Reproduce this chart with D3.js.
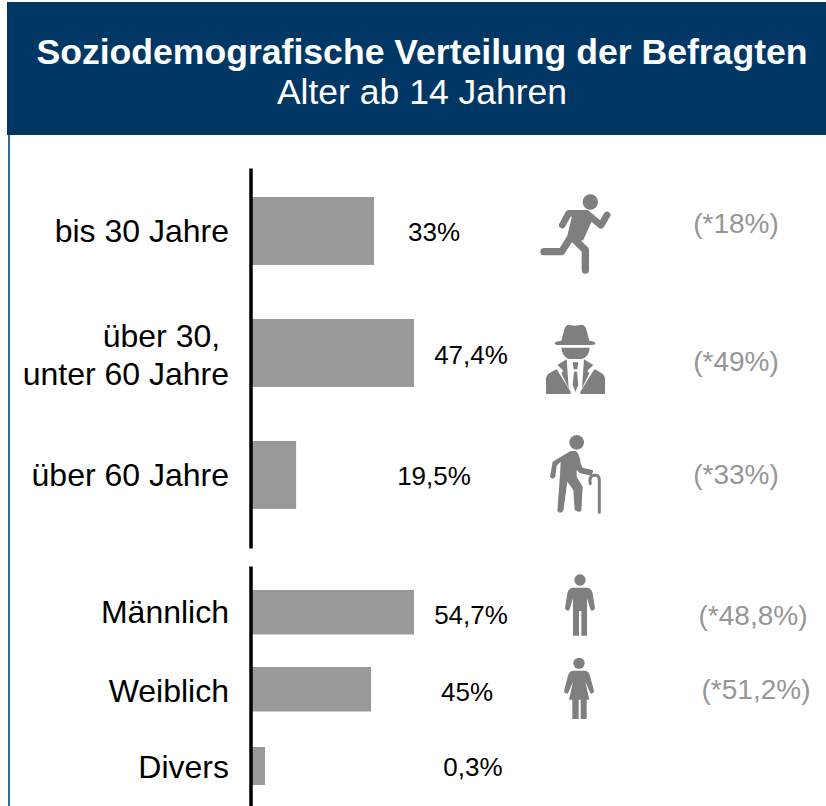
<!DOCTYPE html>
<html><head><meta charset="utf-8">
<script src="https://cdn.jsdelivr.net/npm/d3@7/dist/d3.min.js"></script>
<style>html,body{margin:0;padding:0;background:#fff;overflow:hidden}svg{display:block}text{font-family:"Liberation Sans",Arial,sans-serif}</style>
</head><body><div id="c"></div>
<script>
// ---- data ----
const titleText = "Soziodemografische Verteilung der Befragten";
const subtitleText = "Alter ab 14 Jahren";
const ageCategories = ["bis 30 Jahre", "über 30,\u00a0\n unter 60 Jahre", "über 60 Jahre"];
const ageBarLengths = [41.2, 54.7, 14.9];       // drawn bar lengths
const ageLabels = ["33%", "47,4%", "19,5%"];
const ageCompare = ["(*18%)", "(*49%)", "(*33%)"];
const genderCategories = ["Männlich", "Weiblich", "Divers"];
const genderBarLengths = [54.7, 40.2, 4.4];
const genderLabels = ["54,7%", "45%", "0,3%"];
const genderCompare = ["(*48,8%)", "(*51,2%)", ""];

// ---- layout ----
const W = 826, H = 806;
const valueX = { age: [434, 471, 434], gender: [471, 467, 473] };
const valueY = { age: [232, 355, 476], gender: [615, 692, 767] };
const labelY = { age: [231, 355, 475], gender: [612, 691, 767] };
const compareX = { age: [736, 736, 736], gender: [753, 756, 0] };
const compareY = { age: [224, 362, 475], gender: [616, 690, 0] };
const blue = "#003764";

const svg = d3.select("#c").append("svg").attr("width", W).attr("height", H);
svg.append("rect").attr("x", 8).attr("y", 130).attr("width", 2).attr("height", H).attr("fill", "#336791");
svg.append("rect").attr("x", 7).attr("y", 2).attr("width", W - 7).attr("height", 133).attr("fill", blue);
svg.append("text").attr("x", 422).attr("y", 64).attr("text-anchor", "middle").attr("fill", "#fff")
   .attr("font-size", 35.6).attr("font-weight", "bold").text(titleText);
svg.append("text").attr("x", 422).attr("y", 104).attr("text-anchor", "middle").attr("fill", "#fff")
   .attr("font-size", 35.5).text(subtitleText);

const x = d3.scaleLinear().domain([0, 54.7]).range([252, 414]);
const yAge = d3.scaleBand().domain(ageCategories).range([168, 548]).paddingInner(0.443).paddingOuter(0.279).align(0.426);
const yGender = d3.scaleBand().domain(genderCategories).range([566, 806]).paddingInner(0.422).paddingOuter(0.269).align(0.578);

function group(cats, lens, labels, compare, y, key, trim) {
  const g = svg.append("g");
  g.selectAll("rect.bar").data(cats).join("rect").attr("class", "bar")
    .attr("x", x(0)).attr("width", (d, i) => x(lens[i]) - x(0))
    .attr("y", d => y(d) + (d === trim ? 3 : 0))
    .attr("height", d => d === trim ? y.bandwidth() - 6.5 : y.bandwidth())
    .attr("fill", "#999999");
  const axis = g.append("g").attr("transform", "translate(250.5,0)")
    .call(d3.axisLeft(y).tickSize(0).tickFormat(""));
  axis.select(".domain").attr("stroke", "#000").attr("stroke-width", 3.5);
  axis.selectAll(".tick text").remove();
  cats.forEach((c, i) => {
    const parts = c.split("\n");
    parts.forEach((l, j) => {
      g.append("text").attr("x", 229).attr("text-anchor", "end").attr("font-size", 32)
        .style("white-space", "pre").attr("fill", "#000")
        .attr("y", labelY[key][i] + 11 + (j - (parts.length - 1) / 2) * 38).text(l);
    });
    g.append("text").attr("x", valueX[key][i]).attr("y", valueY[key][i] + 9).attr("text-anchor", "middle")
      .attr("font-size", 26).attr("fill", "#000").text(labels[i]);
    if (compare[i]) g.append("text").attr("x", compareX[key][i]).attr("y", compareY[key][i] + 9)
      .attr("text-anchor", "middle").attr("font-size", 28).attr("fill", "#969696").text(compare[i]);
  });
}
group(ageCategories, ageBarLengths, ageLabels, ageCompare, yAge, "age", null);
group(genderCategories, genderBarLengths, genderLabels, genderCompare, yGender, "gender", "Divers");

// ---- icons (drawn in 3x crop coordinates) ----
const ic = "#7f7f7f";
function icon(ox, oy) { return svg.append("g").attr("transform", `translate(${ox},${oy}) scale(${1/3})`).attr("fill", ic); }
function lines(g, d, w) { g.append("path").attr("d", d).attr("fill", "none").attr("stroke", ic).attr("stroke-width", w).attr("stroke-linecap", "round").attr("stroke-linejoin", "round"); }

// runner
let g = icon(520, 180);
g.append("circle").attr("cx", 211).attr("cy", 66).attr("r", 23);
lines(g, "M127 135L146 100H200L243 136L261 105", 20);
g.append("path").attr("d", "M160 92H205L218 118L190 180L165 190L140 175Z");
lines(g, "M150 175L125 215H72", 22);
lines(g, "M160 175L196 210V270", 22);

// man with hat and suit
g = icon(520, 310);
g.append("path").attr("d", "M124 92L134 55Q140 42 150 45Q165 50 180 45Q192 42 198 55L208 92Q226 94 226 100Q226 105 215 105H115Q104 105 104 99Q104 94 124 92Z");
g.append("path").attr("d", "M124 113H209Q208 140 185 147H148Q126 140 124 113Z");
g.append("path").attr("d", "M78 252V205Q80 190 110 178L152 245V252Z");
g.append("path").attr("d", "M255 252V205Q253 190 223 178L181 245V252Z");
g.append("path").attr("d", "M112 165L140 148L146 235L124 190L130 182Z");
g.append("path").attr("d", "M220 165L192 148L186 235L208 190L202 182Z");
g.append("path").attr("d", "M158 157H175L172 178H161Z");
g.append("path").attr("d", "M162 185H171L175 225L166 245L158 225Z");

// older man with cane
g = icon(530, 425);
g.append("circle").attr("cx", 140).attr("cy", 52).attr("r", 22);
g.append("path").attr("d", "M122 78H138Q148 85 152 115L158 128L190 136L185 152L150 145L140 135V155L158 185L154 258Q146 264 134 255L130 195L112 170L100 258Q90 268 82 258L90 150L92 110L80 122L76 155Q68 166 60 155L68 110Z");
lines(g, "M181 176Q176 155 190 151H200Q208 153 208 165V262", 9);

// man
g = icon(540, 565);
g.append("circle").attr("cx", 120).attr("cy", 45).attr("r", 17);
g.append("path").attr("d", "M98 68H142Q155 70 158 85L165 130Q162 140 152 135L141 100V212H124V138H117V212H99V100L88 135Q78 140 75 130L82 85Q85 70 98 68Z");

// woman
g = icon(540, 565);
g.append("circle").attr("cx", 117).attr("cy", 295).attr("r", 17);
g.append("path").attr("d", "M98 317H136Q146 319 150 332L162 378Q160 388 151 385L136 350L148 404H140V462H122V404H116V462H97V404H87L99 350L84 385Q74 388 72 378L84 332Q88 319 98 317Z");
</script></body></html>
